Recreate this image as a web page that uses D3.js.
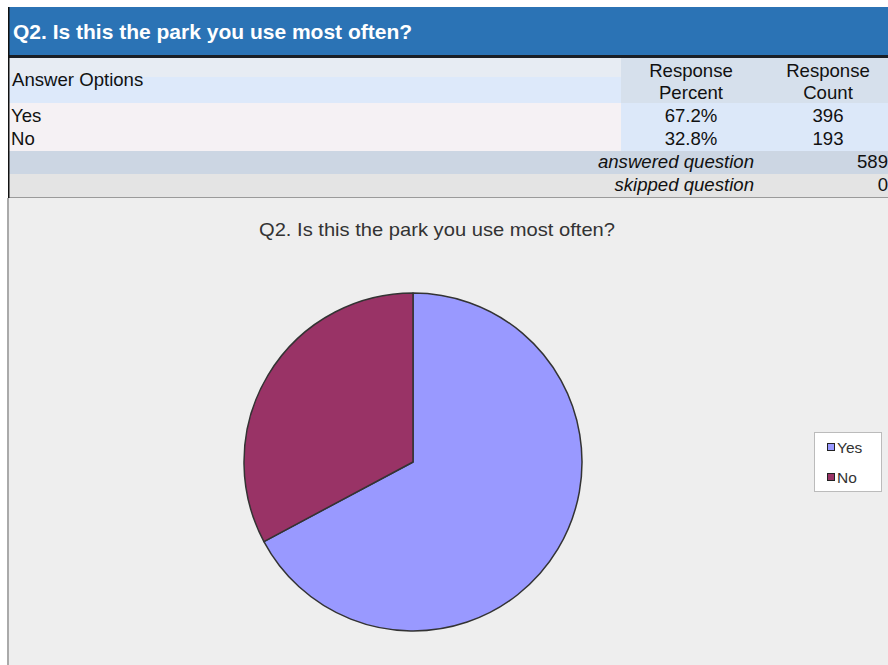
<!DOCTYPE html>
<html><head><meta charset="utf-8">
<script src="https://cdn.jsdelivr.net/npm/d3@7"></script>
<style>html,body{margin:0;padding:0;background:#fff;}svg{display:block;font-family:"Liberation Sans",Arial,sans-serif;}</style>
</head><body>
<script>
const questionTitle = "Q2. Is this the park you use most often?";
const answerOptions = ["Yes", "No"];
const responsePercent = [67.2, 32.8];
const responseCount = [396, 193];
const answeredQuestion = 589;
const skippedQuestion = 0;
const sliceColors = ["#9999ff", "#993366"];

const W = 888, H = 665;
const svg = d3.select("body").append("svg").attr("width", W).attr("height", H);

// backgrounds
svg.append("rect").attr("x",0).attr("y",0).attr("width",W).attr("height",H).attr("fill","#ffffff");
svg.append("rect").attr("x",8).attr("y",198).attr("width",W-8).attr("height",H-198).attr("fill","#eeeeee");
svg.append("rect").attr("x",7).attr("y",198).attr("width",2).attr("height",H-198).attr("fill","#aaaaaa");

// header band
svg.append("rect").attr("x",8).attr("y",7).attr("width",W-8).attr("height",48).attr("fill","#2b73b5");
svg.append("rect").attr("x",8).attr("y",55).attr("width",W-8).attr("height",3).attr("fill","#1a1f26");
svg.append("text").attr("x",13).attr("y",39).attr("fill","#ffffff").attr("font-weight","bold")
  .attr("font-size",21).text(questionTitle);

const colX = 621;
// header row
svg.append("rect").attr("x",9).attr("y",58).attr("width",colX-9).attr("height",19).attr("fill","#e7ecf3");
svg.append("rect").attr("x",9).attr("y",77).attr("width",colX-9).attr("height",26).attr("fill","#dde9fa");
svg.append("rect").attr("x",colX).attr("y",58).attr("width",W-colX).attr("height",45).attr("fill","#d6e0ec");
// data rows
svg.append("rect").attr("x",9).attr("y",103).attr("width",colX-9).attr("height",48).attr("fill","#f5f1f4");
svg.append("rect").attr("x",colX).attr("y",103).attr("width",W-colX).attr("height",48).attr("fill","#dce8f9");
// answered / skipped
svg.append("rect").attr("x",9).attr("y",151).attr("width",W-9).attr("height",23).attr("fill","#ccd6e3");
svg.append("rect").attr("x",9).attr("y",174).attr("width",W-9).attr("height",23).attr("fill","#e4e4e4");
svg.append("rect").attr("x",8).attr("y",197).attr("width",W-8).attr("height",1).attr("fill","#9a9a9a");
// left black border of table
svg.append("rect").attr("x",8).attr("y",7).attr("width",1.5).attr("height",191).attr("fill","#111111");

const tfont = 18.6;
const tcol = "#111111";
const pctX = 691, cntX = 828;
svg.append("text").attr("x",12).attr("y",86).attr("font-size",tfont).attr("fill",tcol).text("Answer Options");
[["Response","Percent",pctX],["Response","Count",cntX]].forEach(h=>{
  svg.append("text").attr("x",h[2]).attr("y",77).attr("text-anchor","middle").attr("font-size",tfont).attr("fill",tcol).text(h[0]);
  svg.append("text").attr("x",h[2]).attr("y",99).attr("text-anchor","middle").attr("font-size",tfont).attr("fill",tcol).text(h[1]);
});
const rowY = d3.scalePoint().domain(answerOptions).range([122,145]);
answerOptions.forEach((a,i)=>{
  svg.append("text").attr("x",11).attr("y",rowY(a)).attr("font-size",tfont).attr("fill",tcol).text(a);
  svg.append("text").attr("x",pctX).attr("y",rowY(a)).attr("text-anchor","middle").attr("font-size",tfont).attr("fill",tcol).text(responsePercent[i].toFixed(1)+"%");
  svg.append("text").attr("x",cntX).attr("y",rowY(a)).attr("text-anchor","middle").attr("font-size",tfont).attr("fill",tcol).text(responseCount[i]);
});
svg.append("text").attr("x",754).attr("y",168).attr("text-anchor","end").attr("font-style","italic").attr("font-size",tfont).attr("fill",tcol).text("answered question");
svg.append("text").attr("x",888).attr("y",168).attr("text-anchor","end").attr("font-size",tfont).attr("fill",tcol).text(answeredQuestion);
svg.append("text").attr("x",754).attr("y",191).attr("text-anchor","end").attr("font-style","italic").attr("font-size",tfont).attr("fill",tcol).text("skipped question");
svg.append("text").attr("x",888).attr("y",191).attr("text-anchor","end").attr("font-size",tfont).attr("fill",tcol).text(skippedQuestion);

// chart title
svg.append("text").attr("x",437).attr("y",236).attr("text-anchor","middle").attr("font-size",19)
  .attr("textLength",356).attr("lengthAdjust","spacingAndGlyphs").attr("fill","#333333").text(questionTitle);

// pie
const cx = 413, cy = 462, r = 169;
const pie = d3.pie().sort(null).value(d=>d);
const arc = d3.arc().innerRadius(0).outerRadius(r);
svg.append("g").attr("transform",`translate(${cx},${cy})`)
  .selectAll("path").data(pie(responsePercent)).join("path")
  .attr("d",arc).attr("fill",(d,i)=>sliceColors[i])
  .attr("stroke","#333333").attr("stroke-width",1.5).attr("stroke-linejoin","round");

// legend
const lg = svg.append("g");
lg.append("rect").attr("x",814.5).attr("y",432.5).attr("width",67).attr("height",59).attr("fill","#ffffff").attr("stroke","#bbbbbb");
const legY = d3.scalePoint().domain(answerOptions).range([447,477]);
answerOptions.forEach((a,i)=>{
  lg.append("rect").attr("x",827.5).attr("y",legY(a)-3.5).attr("width",7).attr("height",7).attr("fill",sliceColors[i]).attr("stroke","#222").attr("stroke-width",1);
  lg.append("text").attr("x",837).attr("y",legY(a)+5.5).attr("font-size",15.5).attr("fill","#333333").text(a);
});
</script>
</body></html>
